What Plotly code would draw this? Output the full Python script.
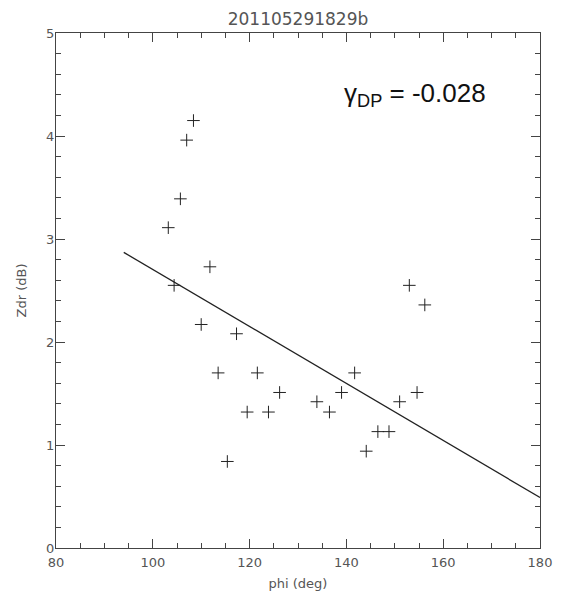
import plotly.graph_objects as go

# Data
phi = [108.4, 107.0, 105.7, 103.2, 111.8, 104.4, 153.0, 156.2, 110.0, 117.3,
       113.5, 121.6, 141.7, 126.2, 139.0, 154.6, 133.9, 151.0, 119.5, 123.9,
       136.5, 146.5, 148.8, 144.1, 115.4]
zdr = [4.15, 3.96, 3.39, 3.11, 2.73, 2.55, 2.55, 2.36, 2.17, 2.08,
       1.70, 1.70, 1.70, 1.51, 1.51, 1.51, 1.42, 1.42, 1.32, 1.32,
       1.32, 1.13, 1.13, 0.94, 0.84]
fit_x = [94.0, 180.0]
fit_y = [2.87, 0.49]
title_text = "201105291829b"
gamma_text = "γ<sub>DP</sub> = -0.028"
x_ticks = [80, 100, 120, 140, 160, 180]
y_ticks = [0, 1, 2, 3, 4, 5]
x_range = [80, 180]
y_range = [0, 5]
x_minor_step = 5
y_minor_step = 0.2

axis_color = "#444444"
label_color = "#555555"
tick_font = dict(family="DejaVu Sans", size=13, color=label_color)

# the page body has an 8px margin; the figure is sized to compensate
PAGE_OFF = 8
W, H = 563 - PAGE_OFF, 599 - PAGE_OFF

fig = go.Figure()
fig.add_trace(go.Scatter(
    x=fit_x, y=fit_y, mode="lines",
    line=dict(color="#222222", width=1.3),
    showlegend=False, hoverinfo="skip"))
fig.add_trace(go.Scatter(
    x=phi, y=zdr, mode="markers",
    marker=dict(symbol="cross-thin", size=9,
                line=dict(color="#222222", width=1)),
    showlegend=False))

fig.add_annotation(
    x=139.0, y=4.40, xref="x", yref="y", xanchor="left", yanchor="middle",
    text=gamma_text, showarrow=False,
    font=dict(family="Liberation Sans", size=26, color="#111111"))

common = dict(ticks="inside", tickwidth=1.2, tickcolor=axis_color,
              showgrid=False, zeroline=False, automargin=False)

fig.update_layout(
    width=W, height=H, autosize=False,
    paper_bgcolor="white", plot_bgcolor="white",
    margin=dict(l=56 - PAGE_OFF, r=23, t=33 - PAGE_OFF, b=51),
    title=dict(text=title_text, x=(298 - PAGE_OFF) / W, xanchor="center",
               y=1 - (19 - PAGE_OFF) / H, yanchor="middle", yref="container",
               font=dict(family="DejaVu Sans", size=17, color=label_color)),
    xaxis=dict(
        range=x_range, tickvals=x_ticks, ticktext=[str(v) for v in x_ticks],
        ticklen=9,
        minor=dict(dtick=x_minor_step, ticks="inside", ticklen=5,
                   tickcolor=axis_color, tickwidth=1.1),
        showline=True, linecolor=axis_color, linewidth=1.2, mirror="ticks",
        tickfont=tick_font, ticklabelstandoff=2,
        title=dict(text="phi (deg)", standoff=10,
                   font=dict(family="DejaVu Sans", size=13, color=label_color)),
        **common),
    yaxis=dict(
        range=y_range, tickvals=y_ticks, ticktext=[str(v) for v in y_ticks],
        ticklen=9,
        minor=dict(dtick=y_minor_step, ticks="inside", ticklen=5,
                   tickcolor=axis_color, tickwidth=1.1),
        showline=True, linecolor=axis_color, linewidth=1.2, mirror="ticks",
        tickfont=tick_font, ticklabelstandoff=-2,
        title=dict(text="Zdr (dB)", standoff=16,
                   font=dict(family="DejaVu Sans", size=13, color=label_color)),
        **common),
)

fig.write_html("out.html")
